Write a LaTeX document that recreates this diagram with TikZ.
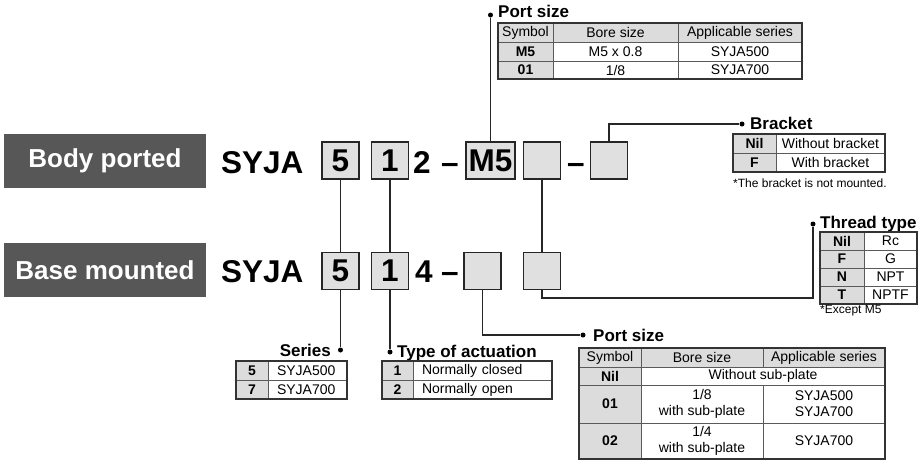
\documentclass[tikz,border=0pt]{standalone}
\usepackage{fontspec}
\setmainfont{Liberation Sans}
\usepackage{tikz}
\usetikzlibrary{calc,positioning}
\definecolor{tagfill}{HTML}{575757}
\definecolor{slotfill}{HTML}{E0E0E0}
\definecolor{cellfill}{HTML}{DCDCDC}
\definecolor{gridline}{HTML}{5A5A5A}
\newcommand{\codefont}{\fontsize{31.5}{31.5}\selectfont\bfseries}
\newcommand{\tabfont}{\fontsize{14}{16}\selectfont}
\tikzstyle{tag}      =[fill=tagfill, text=white, inner sep=0pt,
                       minimum width=202pt, minimum height=54pt,
                       font=\bfseries\fontsize{26}{26}\selectfont]
\tikzstyle{code}     =[font=\codefont, inner sep=0pt, anchor=base west]
\tikzstyle{slot}     =[draw=black!85, fill=slotfill, line width=1.4pt,
                       minimum width=37pt, minimum height=37pt,
                       inner sep=0pt, font=\codefont]
\tikzstyle{link}     =[line width=1.4pt, black!85]
\tikzstyle{dot}      =[circle, fill=black, minimum size=5pt, inner sep=0pt]
\tikzstyle{heading}  =[font=\bfseries\fontsize{17}{17}\selectfont,
                       inner sep=0pt, anchor=base west]
\tikzstyle{remark}   =[font=\fontsize{12}{12}\selectfont,
                       inner sep=0pt, anchor=base west]
\tikzstyle{tablecell}=[draw=gridline, line width=0.8pt, inner sep=0pt,
                       outer sep=0pt, anchor=north west, minimum height=19pt,
                       font=\tabfont, align=center]
\tikzstyle{headcell} =[tablecell, fill=cellfill]
\tikzstyle{symcell}  =[tablecell, fill=cellfill, font=\tabfont\bfseries]
\tikzstyle{leftcell} =[tablecell, inner xsep=9pt, align=left]
\tikzstyle{tableframe}=[draw=black!80, line width=1.3pt]

\begin{document}
\begin{tikzpicture}[x=1pt,y=-1pt]
    \useasboundingbox (0,0) rectangle (919,461);

    % model code, body ported
    \node (body) [tag] at (105,161) {Body ported};
    \node (syjaA) [code] at (221,173) {SYJA};
    \node (t5) [slot] at (340.5,160.5) {5};
    \node (t1) [slot] at (390,160.5) {1};
    \node (dig2) [code] at (413,173) {2};
    \node (dashA) [code] at (441,173) {–};
    \node (tm5) [slot, minimum width=49pt] at (490.5,160.5) {M5};
    \node (tthr) [slot] at (542,160.5) {};
    \node (dashB) [code] at (567,173) {–};
    \node (tbrk) [slot] at (609,160.5) {};

    % model code, base mounted
    \node (base) [tag] at (105,270) {Base mounted};
    \node (syjaB) [code] at (221,282) {SYJA};
    \node (b5) [slot] at (340.5,271) {5};
    \node (b1) [slot] at (390,271) {1};
    \node (dig4) [code] at (415,282) {4};
    \node (dashC) [code] at (441,282) {–};
    \node (bport) [slot] at (482.5,271) {};
    \node (bthr) [slot] at (542,271) {};

    % dots and turns
    \node (dportA) [dot] at (490.5,15) {};
    \node (dbrk) [dot] at (742,124) {};
    \node (dthread) [dot] at (813,224) {};
    \node (dportB) [dot] at (583,335) {};
    \node (dseries) [dot] at (340.5,350) {};
    \node (dtype) [dot] at (390,352) {};
    \coordinate (tturn) at (542,298);

    % connectors
    \foreach \i/\j in {t5/b5,t1/b1,tthr/bthr}
        \draw [link] (\i.south) -- (\j.north);
    \draw [link] (b5.south) -- (dseries);
    \draw [link] (b1.south) -- (dtype);
    \draw [link] (tm5.north) -- (dportA);
    \draw [link] (tbrk.north) |- (dbrk);
    \draw [link] (bthr.south) -- (tturn) -| (dthread);
    \draw [link] (bport.south) |- (dportB);

    % port size (body ported)
    \node (hportA) [heading] at (498,17) {Port size};
    \node [headcell, minimum width=55pt]  at (498,23) {Symbol};
    \node [headcell, minimum width=125pt] at (553,23) {Bore size};
    \node [headcell, minimum width=124pt] at (678,23) {Applicable series};
    \node [symcell, minimum width=55pt]    at (498,42) {M5};
    \node [tablecell, minimum width=125pt] at (553,42) {M5 x 0.8};
    \node [tablecell, minimum width=124pt] at (678,42) {SYJA500};
    \node [symcell, minimum width=55pt, minimum height=18pt]    at (498,61) {01};
    \node [tablecell, minimum width=125pt, minimum height=18pt] at (553,61) {1/8};
    \node [tablecell, minimum width=124pt, minimum height=18pt] at (678,61) {SYJA700};
    \draw [tableframe] (498,23) rectangle (802,79);

    % bracket
    \node (hbrk) [heading] at (750,129) {Bracket};
    \node [symcell, minimum width=43pt]    at (733,134) {Nil};
    \node [tablecell, minimum width=109pt] at (776,134) {Without bracket};
    \node [symcell, minimum width=43pt]    at (733,153) {F};
    \node [tablecell, minimum width=109pt] at (776,153) {With bracket};
    \draw [tableframe] (733,134) rectangle (885,172);
    \node [remark] at (733,187) {*The bracket is not mounted.};

    % thread type
    \node (hthread) [heading] at (820,228) {Thread type};
    \foreach \s/\t [count=\k from 0] in {Nil/Rc,F/G,N/NPT,T/NPTF}{
        \node [symcell, minimum width=44pt, minimum height=18pt]   at (820,232+18*\k) {\s};
        \node [tablecell, minimum width=53pt, minimum height=18pt] at (864,232+18*\k) {\t};
    }
    \draw [tableframe] (820,232) rectangle (917,304);
    \node [remark] at (820,313) {*Except M5};

    % series
    \node (hseries) [heading, anchor=base east] at (331,356) {Series};
    \node [symcell, minimum width=32pt]                at (236,361) {5};
    \node [leftcell, text width=61pt, minimum height=19pt] at (268,361) {SYJA500};
    \node [symcell, minimum width=32pt]                at (236,380) {7};
    \node [leftcell, text width=61pt, minimum height=19pt] at (268,380) {SYJA700};
    \draw [tableframe] (236,361) rectangle (347,399);

    % type of actuation
    \node (htype) [heading] at (397,357) {Type of actuation};
    \node [symcell, minimum width=31pt]                 at (382,361) {1};
    \node [leftcell, text width=121pt, minimum height=19pt] at (413,361) {Normally closed};
    \node [symcell, minimum width=31pt]                 at (382,380) {2};
    \node [leftcell, text width=121pt, minimum height=19pt] at (413,380) {Normally open};
    \draw [tableframe] (382,361) rectangle (552,399);

    % port size (base mounted)
    \node (hportB) [heading] at (593,341) {Port size};
    \node [headcell, minimum width=62pt]  at (579,348) {Symbol};
    \node [headcell, minimum width=122pt] at (641,348) {Bore size};
    \node [headcell, minimum width=122pt] at (763,348) {Applicable series};
    \node [symcell, minimum width=62pt, minimum height=18pt]    at (579,367) {Nil};
    \node [tablecell, minimum width=244pt, minimum height=18pt] at (641,367) {Without sub-plate};
    \node [symcell, minimum width=62pt, minimum height=38pt]    at (579,385) {01};
    \node [tablecell, minimum width=122pt, minimum height=38pt] at (641,385) {1/8\\with sub-plate};
    \node [tablecell, minimum width=122pt, minimum height=38pt] at (763,385) {SYJA500\\SYJA700};
    \node [symcell, minimum width=62pt, minimum height=36pt]    at (579,423) {02};
    \node [tablecell, minimum width=122pt, minimum height=36pt] at (641,423) {1/4\\with sub-plate};
    \node [tablecell, minimum width=122pt, minimum height=36pt] at (763,423) {SYJA700};
    \draw [tableframe] (579,348) rectangle (885,459);

\end{tikzpicture}
\end{document}
